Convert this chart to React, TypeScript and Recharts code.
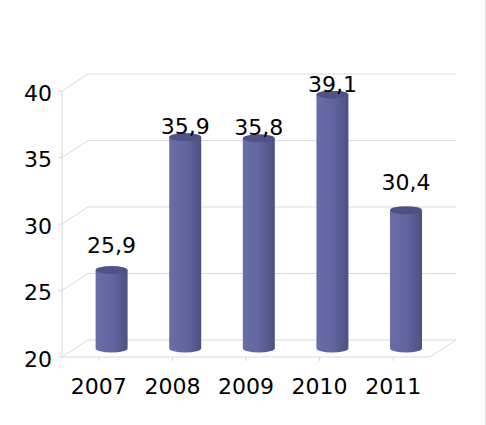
import React from 'react';
import { BarChart, Bar, XAxis, YAxis, CartesianGrid, LabelList } from 'recharts';

// ---- data ----
const years = ['2007', '2008', '2009', '2010', '2011'];
const values = [25.9, 35.9, 35.8, 39.1, 30.4];
const valueLabels = ['25,9', '35,9', '35,8', '39,1', '30,4'];
const yTicks = [20, 25, 30, 35, 40];

const data = years.map((year, i) => ({ year, value: values[i], label: valueLabels[i] }));

// ---- style / layout ----
const W = 486;
const H = 425;
const FONT = '"DejaVu Sans", Verdana, sans-serif';
const GRID = '#d9d9d9';
const DEPTH_X = 26;
const DEPTH_Y = 17;
const BAR_DX = 13;
const BAR_DY = 8.5;
const labelLift = [25, 11, 11, 10, 28];
const margin = { top: 91, right: 56, bottom: 38, left: 12 };
const Y_AXIS_W = 50;
const X_AXIS_H = 30;
const PLOT_BOTTOM = H - margin.bottom - X_AXIS_H;

const renderHorizontal = (p: any) => {
  const { x1, y1, x2, index } = p;
  const isBottom = Math.abs(y1 - PLOT_BOTTOM) < 1;
  return (
    <g key={`hg-${index}`}>
      <line x1={x1} y1={y1} x2={x1 + DEPTH_X} y2={y1 - DEPTH_Y} stroke={GRID} strokeWidth={1} />
      <line x1={x1 + DEPTH_X} y1={y1 - DEPTH_Y} x2={x2 + DEPTH_X} y2={y1 - DEPTH_Y} stroke={GRID} strokeWidth={1} />
      {isBottom && (
        <line x1={x2} y1={y1} x2={x2 + DEPTH_X} y2={y1 - DEPTH_Y} stroke={GRID} strokeWidth={1} />
      )}
    </g>
  );
};

const Cylinder = (props: any) => {
  const { x, y, width, height, index } = props;
  if (x == null || height == null) return null;
  const left = x + BAR_DX;
  const right = left + width;
  const top = y - BAR_DY;
  const bottom = y + height - BAR_DY;
  const rx = width / 2;
  const ry = 4;
  const gid = `cyl-grad-${index}`;
  return (
    <g>
      <defs>
        <linearGradient id={gid} x1="0" y1="0" x2="1" y2="0">
          <stop offset="0" stopColor="#6a6ea8" />
          <stop offset="0.5" stopColor="#6266a0" />
          <stop offset="1" stopColor="#4c5081" />
        </linearGradient>
      </defs>
      <path
        d={`M${left},${top} L${left},${bottom} A${rx},${ry} 0 0 0 ${right},${bottom} L${right},${top} Z`}
        fill={`url(#${gid})`}
      />
      <ellipse cx={left + rx} cy={top} rx={rx} ry={ry} fill="#4f5284" />
    </g>
  );
};

const ValueLabel = (props: any) => {
  const vb = props.viewBox || props;
  const x = props.x ?? vb.x;
  const y = props.y ?? vb.y;
  const width = props.width ?? vb.width;
  const index = props.index ?? 0;
  return (
    <text
      x={x + width / 2 + BAR_DX}
      y={y - BAR_DY - labelLift[index]}
      textAnchor="middle"
      dominantBaseline="central"
      fontSize={22}
      fontFamily={FONT}
      fill="#000"
    >
      {valueLabels[index]}
    </text>
  );
};

export default function App() {
  return (
    <div
      style={{
        position: 'absolute',
        left: 0,
        top: 0,
        width: W - 1,
        height: H,
        borderRight: `1px solid ${GRID}`,
        background: '#fff',
        overflow: 'hidden',
      }}
    >
      <BarChart width={W} height={H} data={data} margin={margin} barCategoryGap="28%">
        <CartesianGrid vertical={false} horizontal={renderHorizontal} />
        <XAxis
          dataKey="year"
          height={X_AXIS_H}
          axisLine={{ stroke: GRID }}
          tickLine={{ stroke: GRID }}
          tickSize={4}
          tickMargin={17}
          tick={{ fontSize: 22, fontFamily: FONT, fill: '#000' }}
          interval={0}
        />
        <YAxis
          width={Y_AXIS_W}
          domain={[20, 40]}
          ticks={yTicks}
          allowDataOverflow
          axisLine={{ stroke: GRID }}
          tickLine={{ stroke: GRID }}
          tickSize={4}
          tickMargin={6}
          tick={{ fontSize: 22, fontFamily: FONT, fill: '#000', dy: 2 }}
        />
        <Bar dataKey="value" isAnimationActive={false} shape={<Cylinder />}>
          <LabelList dataKey="label" content={<ValueLabel />} />
        </Bar>
      </BarChart>
    </div>
  );
}
